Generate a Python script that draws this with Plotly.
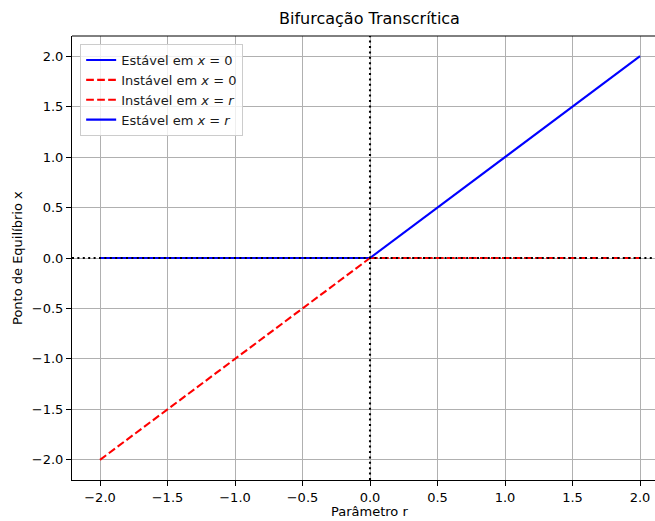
import plotly.graph_objects as go

# Bifurcation parameter ranges on each side of r = 0
r_neg = [-2.0, 0.0]
r_pos = [0.0, 2.0]

# Equilibrium branches
x_zero_neg = [0.0, 0.0]     # x = 0 for r < 0 (stable)
x_zero_pos = [0.0, 0.0]     # x = 0 for r > 0 (unstable)
x_r_neg = [-2.0, 0.0]       # x = r for r < 0 (unstable)
x_r_pos = [0.0, 2.0]        # x = r for r > 0 (stable)

tick_vals = [-2.0, -1.5, -1.0, -0.5, 0.0, 0.5, 1.0, 1.5, 2.0]
tick_text = ["\u22122.0", "\u22121.5", "\u22121.0", "\u22120.5", "0.0", "0.5", "1.0", "1.5", "2.0"]

FONT = "DejaVu Sans"
LW = 2.08
DASH = "7.7px,3.3px"

fig = go.Figure()
fig.add_trace(go.Scatter(x=r_neg, y=x_zero_neg, mode="lines", name="Estável em <i>x</i> = 0",
                         line=dict(color="#0000ff", width=LW)))
fig.add_trace(go.Scatter(x=r_pos, y=x_zero_pos, mode="lines", name="Instável em <i>x</i> = 0",
                         line=dict(color="#ff0000", width=LW, dash=DASH)))
fig.add_trace(go.Scatter(x=r_neg, y=x_r_neg, mode="lines", name="Instável em <i>x</i> = <i>r</i>",
                         line=dict(color="#ff0000", width=LW, dash=DASH)))
fig.add_trace(go.Scatter(x=r_pos, y=x_r_pos, mode="lines", name="Estável em <i>x</i> = <i>r</i>",
                         line=dict(color="#0000ff", width=LW)))

# Dotted reference lines through the origin
fig.add_shape(type="line", xref="paper", yref="y", x0=0, x1=1, y0=0, y1=0,
              line=dict(color="black", width=LW, dash="2px,3.4px"), layer="above")
fig.add_shape(type="line", xref="x", yref="paper", x0=0, x1=0, y0=0, y1=1,
              line=dict(color="black", width=LW, dash="2px,3.4px"), layer="above")

axis_common = dict(
    showgrid=True, gridcolor="#b0b0b0", gridwidth=0.8,
    showline=True, linecolor="black", linewidth=1,
    ticks="outside", ticklen=5, tickwidth=1, tickcolor="black",
    tickfont=dict(family=FONT, size=13, color="black"),
    zeroline=False,
    tickvals=tick_vals, ticktext=tick_text,
)

fig.update_layout(
    width=655, height=521,
    margin=dict(l=72, r=0, t=36, b=41),
    plot_bgcolor="white", paper_bgcolor="white",
    font=dict(family=FONT, size=13, color="black"),
    xaxis=dict(range=[-2.2074, 2.111], mirror=False, **axis_common),
    yaxis=dict(range=[-2.2, 2.2], mirror=False, **axis_common),
    showlegend=True,
    legend=dict(x=0.014, y=0.982, xanchor="left", yanchor="top",
                bgcolor="rgba(255,255,255,0.8)", bordercolor="#cccccc", borderwidth=1,
                font=dict(family=FONT, size=13, color="#1a1a1a"),
                tracegroupgap=0),
    annotations=[
        dict(text="Bifurcação Transcrítica", xref="paper", yref="paper",
             x=0.511, y=1, xanchor="center", yanchor="bottom", yshift=6,
             showarrow=False, font=dict(family=FONT, size=16, color="black")),
        dict(text="Parâmetro r", xref="paper", yref="paper",
             x=0.511, y=0, xanchor="center", yanchor="top", yshift=-22,
             showarrow=False, font=dict(family=FONT, size=13, color="black")),
        dict(text="Ponto de Equilíbrio x", xref="paper", yref="paper",
             x=0, y=0.5, xanchor="center", yanchor="middle", xshift=-55,
             textangle=-90,
             showarrow=False, font=dict(family=FONT, size=13, color="black")),
    ],
)

# Top spine as in a boxed axes (right side falls outside the page)
fig.add_shape(type="line", xref="paper", yref="paper", x0=0, x1=1, y0=1, y1=1,
              line=dict(color="black", width=1), layer="above")

fig.write_html("out.html")
